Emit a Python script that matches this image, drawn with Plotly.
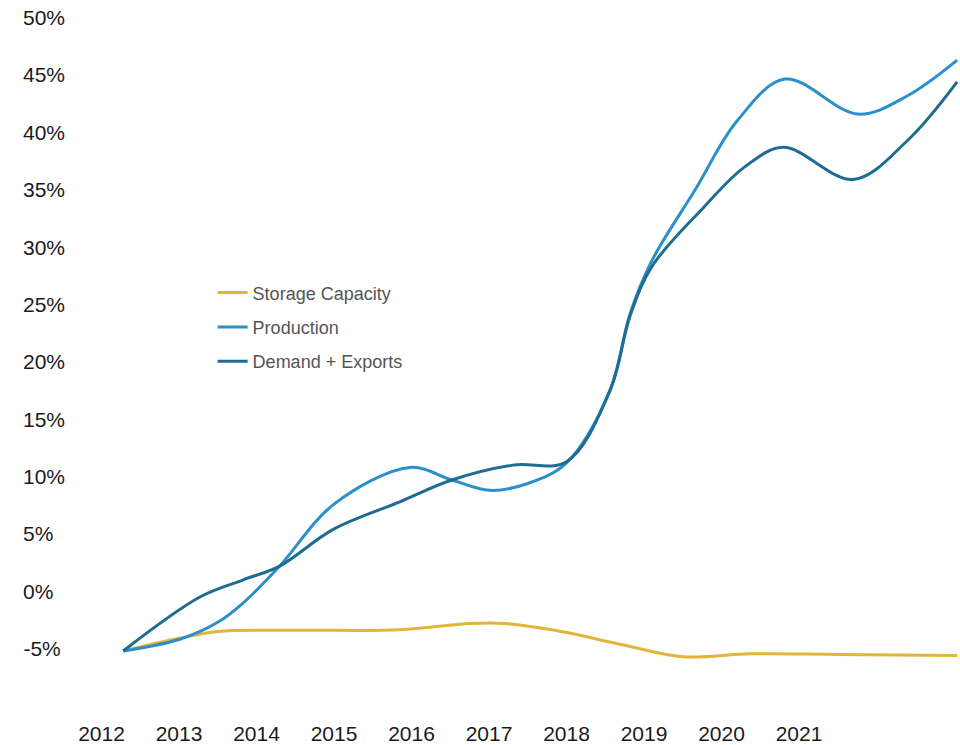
import plotly.graph_objects as go

# ---- data ----
storage_x = [2012.28, 2013.0, 2013.5, 2014.56, 2015.85, 2016.75, 2017.2, 2017.85, 2018.75, 2019.5, 2020.37, 2021.5, 2023.04]
storage_y = [-5.2, -4.1, -3.5, -3.4, -3.35, -2.8, -2.8, -3.4, -4.7, -5.7, -5.45, -5.5, -5.6]

production_x = [2012.28, 2013.0, 2013.5, 2013.83, 2014.3, 2015.0, 2015.98, 2016.52, 2017.01, 2017.5, 2018.0, 2018.56, 2018.82, 2019.1, 2019.66, 2020.2, 2020.82, 2021.76, 2022.4, 2023.04]
production_y = [-5.2, -4.2, -2.7, -1.0, 2.2, 7.6, 10.8, 9.7, 8.8, 9.4, 11.2, 17.5, 24.2, 28.8, 35.0, 41.0, 44.65, 41.6, 43.2, 46.3]

demand_x = [2012.28, 2013.27, 2013.83, 2014.3, 2014.99, 2015.85, 2016.52, 2017.31, 2018.0, 2018.56, 2018.82, 2019.1, 2019.76, 2020.3, 2020.8, 2021.7, 2022.4, 2023.04]
demand_y = [-5.2, -0.5, 1.0, 2.2, 5.4, 7.8, 9.7, 11.0, 11.3, 17.5, 24.0, 28.3, 33.4, 37.0, 38.7, 35.9, 39.3, 44.4]

year_ticks = [2012, 2013, 2014, 2015, 2016, 2017, 2018, 2019, 2020, 2021]
year_labels = ["2012", "2013", "2014", "2015", "2016", "2017", "2018", "2019", "2020", "2021"]
pct_ticks = [-5, 0, 5, 10, 15, 20, 25, 30, 35, 40, 45, 50]
pct_labels = ["-5%\u2009", "0%\u2007", "5%\u2007", "10%", "15%", "20%", "25%", "30%", "35%", "40%", "45%", "50%"]

series_names = ["Storage Capacity", "Production", "Demand + Exports"]
series_colors = ["#E3B43C", "#2B8FCA", "#1F6C93"]

FONT = "Arial, 'Liberation Sans', Helvetica, sans-serif"

fig = go.Figure()
for name, xs, ys, col in zip(series_names,
                             [storage_x, production_x, demand_x],
                             [storage_y, production_y, demand_y],
                             series_colors):
    fig.add_trace(go.Scatter(
        x=xs, y=ys, name=name, mode="lines",
        line=dict(color=col, width=3, shape="spline", smoothing=1.0),
        legendgroup=name,
    ))

fig.update_layout(
    width=960, height=745,
    margin=dict(l=66, r=0, t=12, b=39),
    paper_bgcolor="white", plot_bgcolor="white",
    font=dict(family=FONT, size=21, color="#1a1a1a"),
    showlegend=True,
    legend=dict(
        x=0.164, y=0.622, xanchor="left", yanchor="top",
        bgcolor="rgba(0,0,0,0)",
        font=dict(family=FONT, size=18, color="#555555"),
        tracegroupgap=8,
    ),
    xaxis=dict(
        range=[2011.542, 2023.077],
        tickmode="array", tickvals=year_ticks, ticktext=year_labels,
        showgrid=False, zeroline=False, showline=False,
        ticks="outside", ticklen=9, tickcolor="rgba(0,0,0,0)",
        automargin=False,
    ),
    yaxis=dict(
        range=[-10, 50.5],
        tickmode="array", tickvals=pct_ticks, ticktext=pct_labels,
        showgrid=False, zeroline=False, showline=False,
        ticks="", automargin=False,
    ),
)

fig.write_html("out.html")
